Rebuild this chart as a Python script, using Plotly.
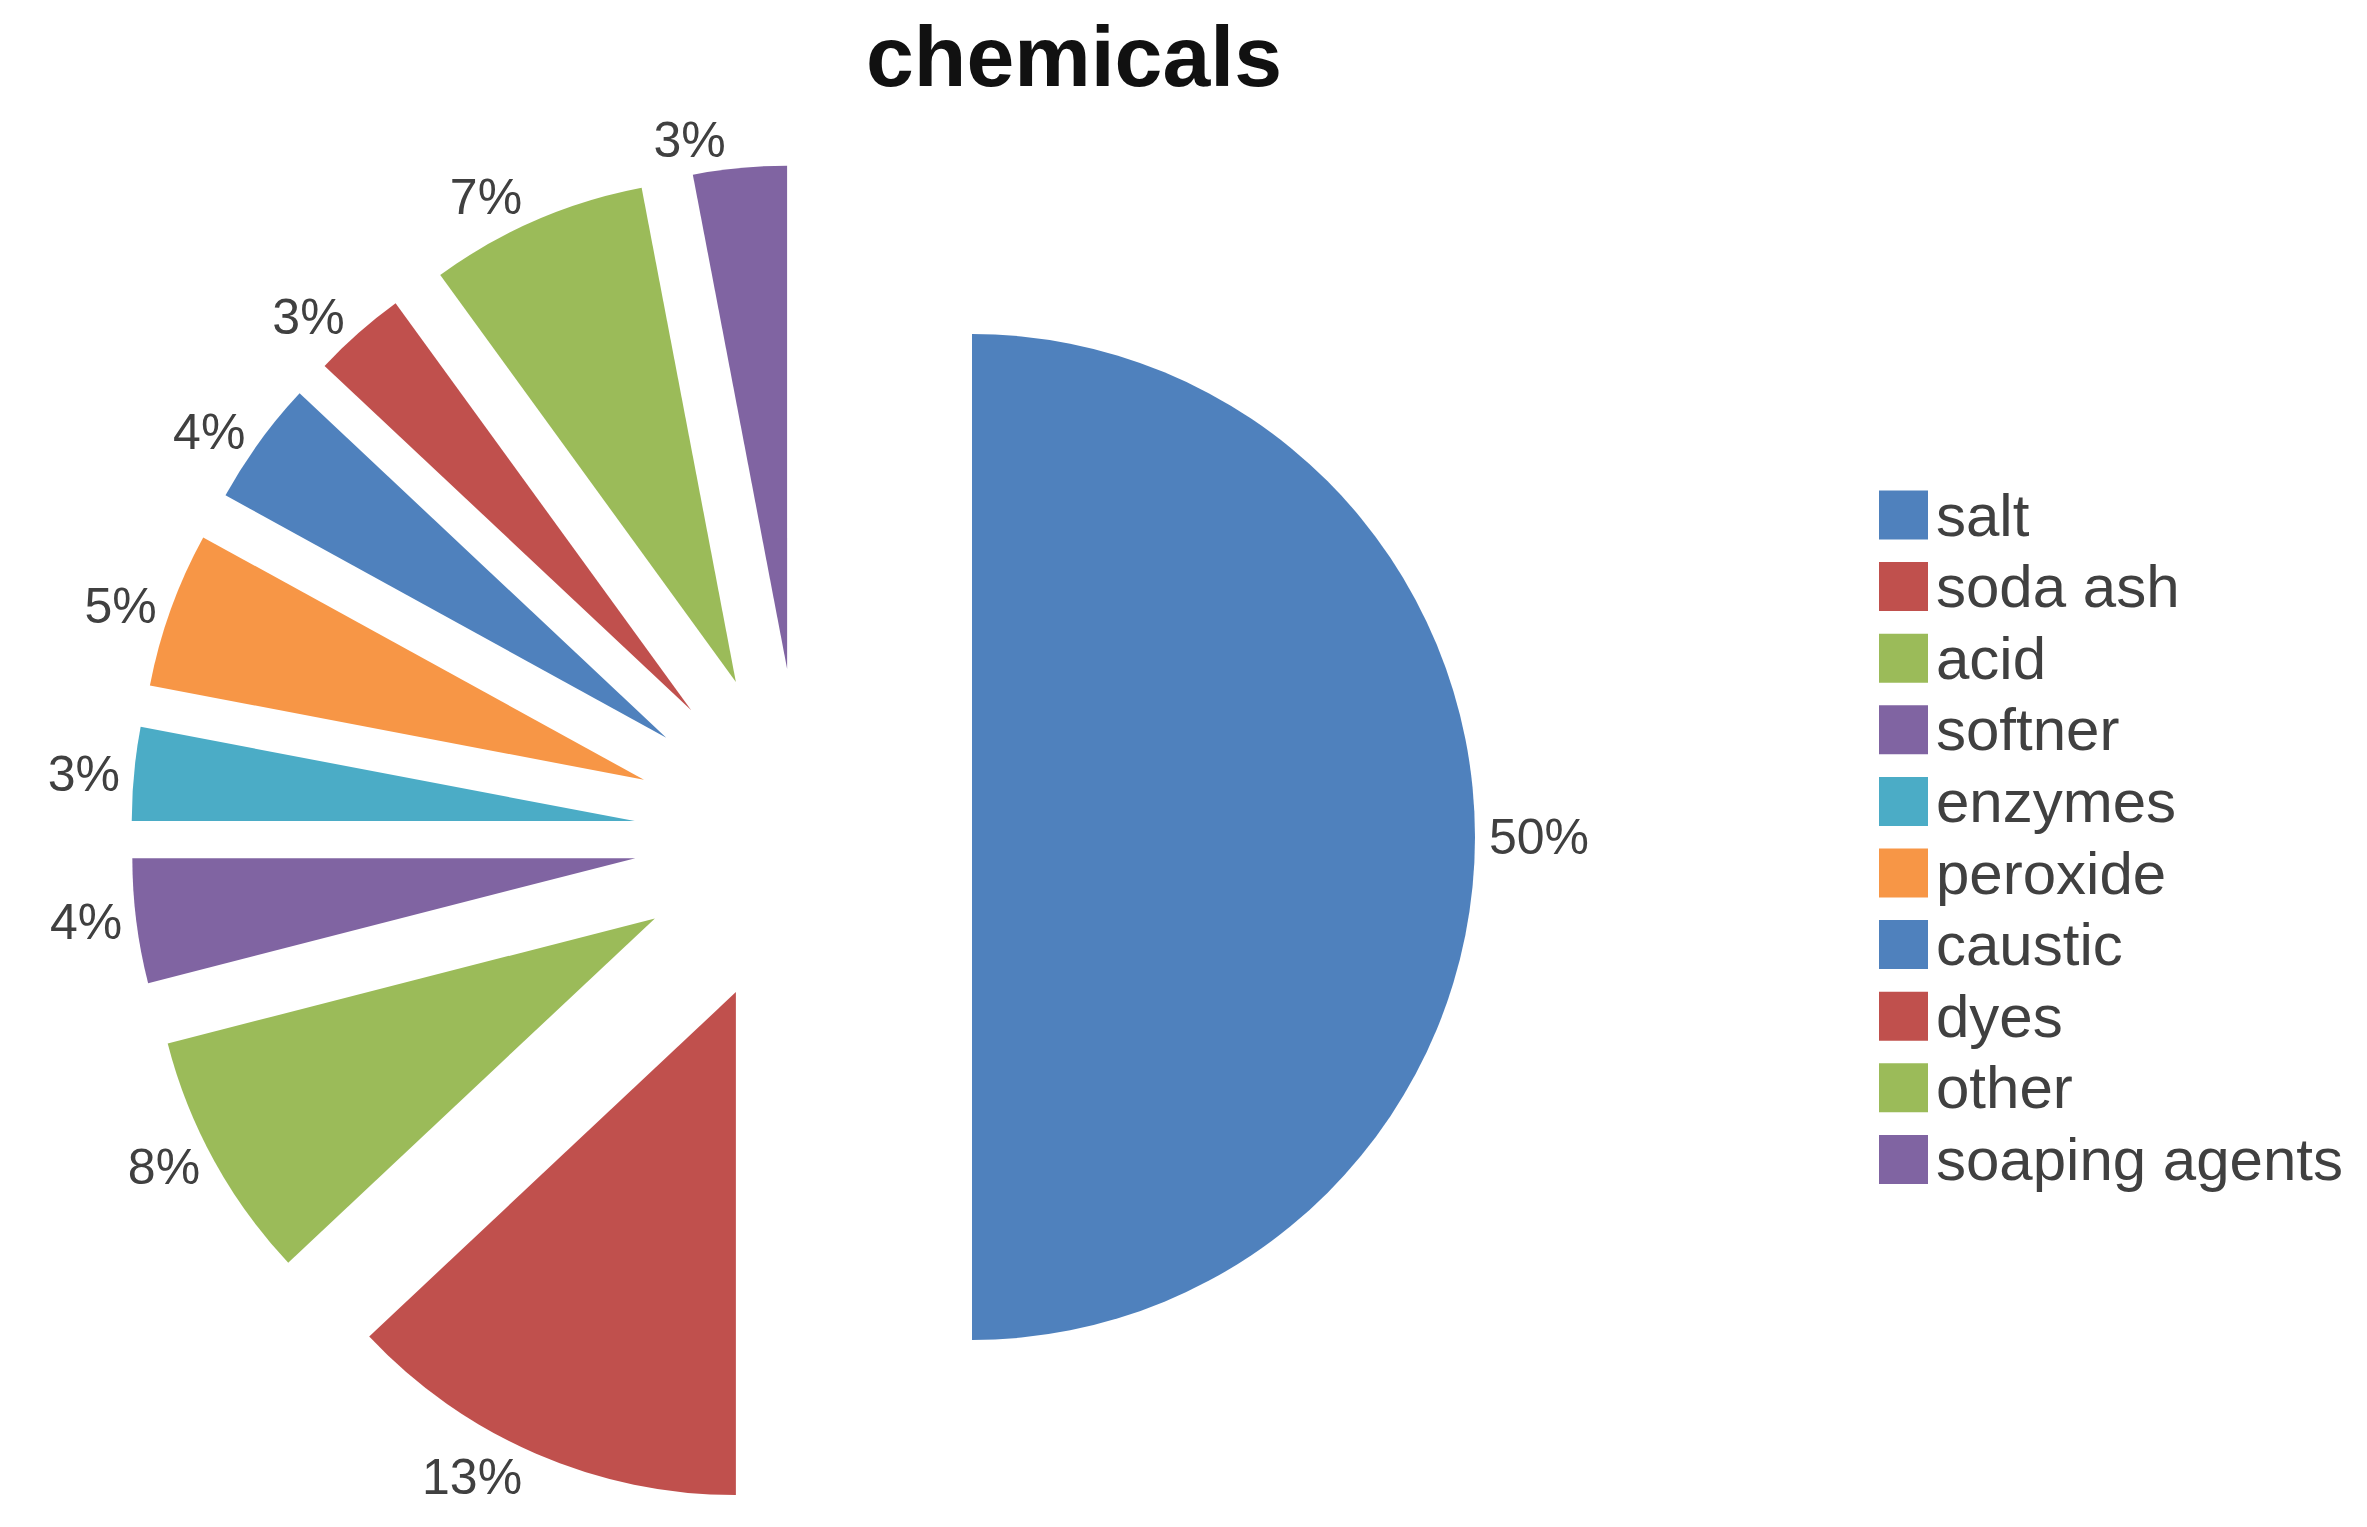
import plotly.graph_objects as go

# ---- data ----
categories = ["salt", "soda ash", "acid", "softner", "enzymes", "peroxide",
              "caustic", "dyes", "other", "soaping agents"]
values = [50, 13, 8, 4, 3, 5, 4, 3, 7, 3]
colors = ["#4F81BD", "#C0504D", "#9BBB59", "#8064A2", "#4BACC6", "#F79646",
          "#4F81BD", "#C0504D", "#9BBB59", "#8064A2"]
title_text = "chemicals"

W, H = 2367, 1527
FONT = "Liberation Sans, Arial, sans-serif"

fig = go.Figure()
fig.add_trace(go.Pie(
    labels=categories,
    values=values,
    sort=False,
    direction="clockwise",
    rotation=0,
    pull=[0.336] * len(values),
    marker=dict(colors=colors, line=dict(width=0)),
    textposition="outside",
    texttemplate="%{percent:.0%}",
    textfont=dict(family=FONT, size=50, color="#404040"),
    showlegend=False,
    automargin=False,
    domain=dict(x=[131 / W, 1475 / W], y=[1 - 1509 / H, 1 - 165 / H]),
    hoverinfo="label+percent",
))

# ---- legend drawn as layout elements (square swatches + text) ----
leg_x0, leg_sq = 1879, 49
leg_y0, leg_dy = 515, 71.6
shapes, annotations = [], []
for i, (name, col) in enumerate(zip(categories, colors)):
    cy = leg_y0 + i * leg_dy
    shapes.append(dict(type="rect", xref="paper", yref="paper",
                       x0=leg_x0 / W, x1=(leg_x0 + leg_sq) / W,
                       y0=1 - (cy + leg_sq / 2) / H, y1=1 - (cy - leg_sq / 2) / H,
                       fillcolor=col, line=dict(width=0)))
    annotations.append(dict(xref="paper", yref="paper",
                            x=(leg_x0 + leg_sq + 6) / W, y=1 - cy / H,
                            xanchor="left", yanchor="middle", showarrow=False,
                            text=name,
                            font=dict(family=FONT, size=60, color="#404040")))

fig.update_layout(
    width=W, height=H,
    margin=dict(l=0, r=0, t=0, b=0, pad=0, autoexpand=False),
    paper_bgcolor="white",
    plot_bgcolor="white",
    title=dict(text="<b>" + title_text + "</b>", x=1074 / W, y=1 - 56 / H,
               xanchor="center", yanchor="middle",
               font=dict(family=FONT, size=86, color="#111111")),
    shapes=shapes,
    annotations=annotations,
)

fig.write_html("out.html")
